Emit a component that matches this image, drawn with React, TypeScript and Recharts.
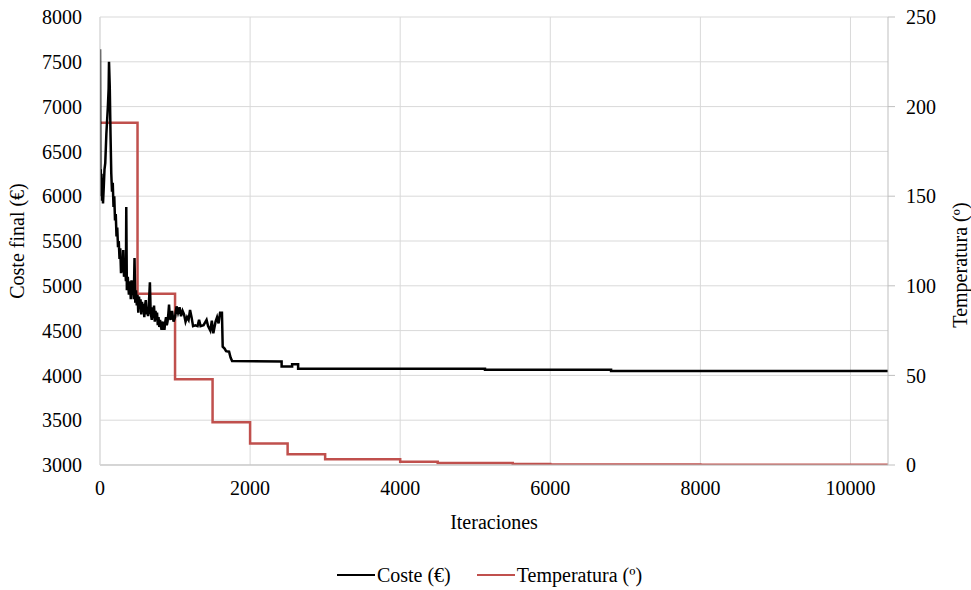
import React from "react";
import {
  LineChart,
  Line,
  XAxis,
  YAxis,
  CartesianGrid,
  Legend,
} from "recharts";

// Coste (€) per iteration
const costIter = [
  0, 5, 10, 15, 20, 25, 30, 40, 50, 60, 70, 85, 95, 105, 115, 120, 130, 140,
  150, 160, 170, 180, 190, 200, 210, 220, 230, 240, 250, 260, 270, 280, 290,
  300, 310, 320, 335, 345, 350, 358, 370, 385, 400, 410, 420, 430, 440, 450,
  460, 470, 480, 490, 500, 510, 520, 530, 540, 550, 560, 570, 580, 590, 600,
  610, 620, 630, 640, 650, 665, 675, 690, 700, 710, 720, 730, 740, 750, 760,
  770, 780, 790, 800, 810, 820, 830, 840, 850, 860, 870, 880, 890, 900, 910,
  920, 930, 940, 960, 980, 1000, 1020, 1040, 1060, 1080, 1100, 1120, 1140,
  1160, 1180, 1200, 1220, 1240, 1270, 1300, 1320, 1340, 1380, 1420, 1440,
  1470, 1490, 1510, 1540, 1560, 1580, 1600, 1625, 1635, 1660, 1680, 1720,
  1740, 1760, 2420, 2420, 2560, 2560, 2640, 2640, 5130, 5130, 6810, 6810,
  10500,
];
const costValue = [
  7640, 6150, 6300, 6000, 6250, 5950, 6200, 5920, 6100, 6300, 6370, 6700,
  6850, 7000, 7200, 7500, 7220, 6700, 6260, 6050, 6150, 5880, 6000, 5730,
  5800, 5550, 5650, 5430, 5500, 5300, 5420, 5140, 5300, 5150, 5400, 5100,
  5250, 5050, 5880, 4950, 5100, 4900, 5050, 4850, 5060, 4900, 5000, 4850,
  5310, 4810, 4950, 4780, 4900, 4700, 4880, 4760, 4850, 4680, 4820, 4720,
  4800, 4650, 4780, 4840, 4680, 4760, 4660, 4780, 5040, 4700, 4620, 4760,
  4640, 4780, 4600, 4720, 4620, 4700, 4560, 4650, 4540, 4620, 4560, 4510,
  4600, 4580, 4520, 4520, 4600, 4650, 4560, 4600, 4680, 4790, 4650, 4620,
  4720, 4600, 4650, 4770, 4700, 4760, 4660, 4720, 4680, 4600, 4650, 4620,
  4730, 4650, 4550, 4560, 4550, 4620, 4550, 4560, 4620, 4550, 4500, 4610,
  4470, 4600, 4650, 4580, 4700, 4700, 4320, 4300, 4270, 4265, 4200, 4160,
  4155, 4100, 4100, 4125, 4125, 4075, 4075, 4062, 4062, 4050, 4050,
];

// Temperatura (º), stepped every 500 iterations
const tempIter = [
  0, 500, 1000, 1500, 2000, 2500, 3000, 3500, 4000, 4500, 5000, 5500, 6000,
  6500, 7000, 7500, 8000, 8500, 9000, 9500, 10000, 10500,
];
const tempValue = [
  191, 95.5, 47.8, 23.9, 12, 6, 3.2, 3.2, 1.8, 1.1, 1.1, 0.5, 0.3, 0.3, 0.3,
  0.3, 0.1, 0.1, 0.1, 0.1, 0.1, 0.1,
];

const xTicks = [0, 2000, 4000, 6000, 8000, 10000];
const costTicks = [3000, 3500, 4000, 4500, 5000, 5500, 6000, 6500, 7000, 7500, 8000];
const tempTicks = [0, 50, 100, 150, 200, 250];

const costData = costIter.map((iter, i) => ({ iter, cost: costValue[i] }));
const tempData = tempIter.map((iter, i) => ({ iter, temp: tempValue[i] }));

const FONT = "Liberation Serif";
const tickStyle = { fill: "#000", fontSize: 20, fontFamily: FONT };
const labelStyle = { fill: "#000", fontSize: 20, fontFamily: FONT };

function ChartLegend() {
  const item = (color: string, text: string) => (
    <div style={{ display: "flex", alignItems: "center", margin: "0 13px" }}>
      <div style={{ width: 38, height: 2.5, background: color, marginRight: 2 }} />
      <span>{text}</span>
    </div>
  );
  return (
    <div
      style={{
        display: "flex",
        justifyContent: "center",
        alignItems: "center",
        height: 30,
        fontFamily: FONT,
        fontSize: 20,
        color: "#000",
        paddingLeft: 8,
      }}
    >
      {item("#000000", "Coste (€)")}
      {item("#c0504d", "Temperatura (º)")}
    </div>
  );
}

export default function App() {
  return (
    <div
      style={{
        position: "absolute",
        left: 0,
        top: 0,
        background: "#fff",
        fontFamily: FONT,
      }}
    >
      <style>{`svg text { font-family: "Liberation Serif", serif !important; }`}</style>
      <LineChart
        width={971}
        height={590}
        margin={{ top: 17, right: 0, bottom: 0, left: 0 }}
      >
        <CartesianGrid
          yAxisId="cost"
          stroke="#d9d9d9"
          verticalValues={xTicks}
          horizontalValues={costTicks}
        />
        <XAxis
          dataKey="iter"
          type="number"
          domain={[0, 10500]}
          ticks={xTicks}
          tick={tickStyle}
          tickSize={0}
          tickMargin={16}
          height={95}
          stroke="#bfbfbf"
          allowDataOverflow
          label={{
            value: "Iteraciones",
            position: "insideBottom",
            offset: 31,
            ...labelStyle,
          }}
        />
        <YAxis
          yAxisId="cost"
          orientation="left"
          domain={[3000, 8000]}
          ticks={costTicks}
          tick={tickStyle}
          tickSize={0}
          tickMargin={18}
          width={100}
          stroke="#d9d9d9"
          allowDataOverflow
          label={{
            value: "Coste final (€)",
            angle: -90,
            position: "center",
            dx: -33,
            ...labelStyle,
          }}
        />
        <YAxis
          yAxisId="temp"
          orientation="right"
          domain={[0, 250]}
          ticks={tempTicks}
          tick={tickStyle}
          tickSize={7}
          tickMargin={11}
          width={83}
          stroke="#bfbfbf"
          allowDataOverflow
          label={{
            value: "Temperatura (º)",
            angle: -90,
            position: "center",
            dx: 30,
            dy: 24,
            ...labelStyle,
          }}
        />
        <Legend verticalAlign="bottom" height={30} content={() => <ChartLegend />} />
        <Line
          yAxisId="temp"
          data={tempData}
          dataKey="temp"
          type="stepAfter"
          stroke="#c0504d"
          strokeWidth={2.5}
          dot={false}
          isAnimationActive={false}
          name="Temperatura (º)"
        />
        <Line
          yAxisId="cost"
          data={costData}
          dataKey="cost"
          type="linear"
          stroke="#000000"
          strokeWidth={2.5}
          dot={false}
          isAnimationActive={false}
          name="Coste (€)"
        />
      </LineChart>
    </div>
  );
}
